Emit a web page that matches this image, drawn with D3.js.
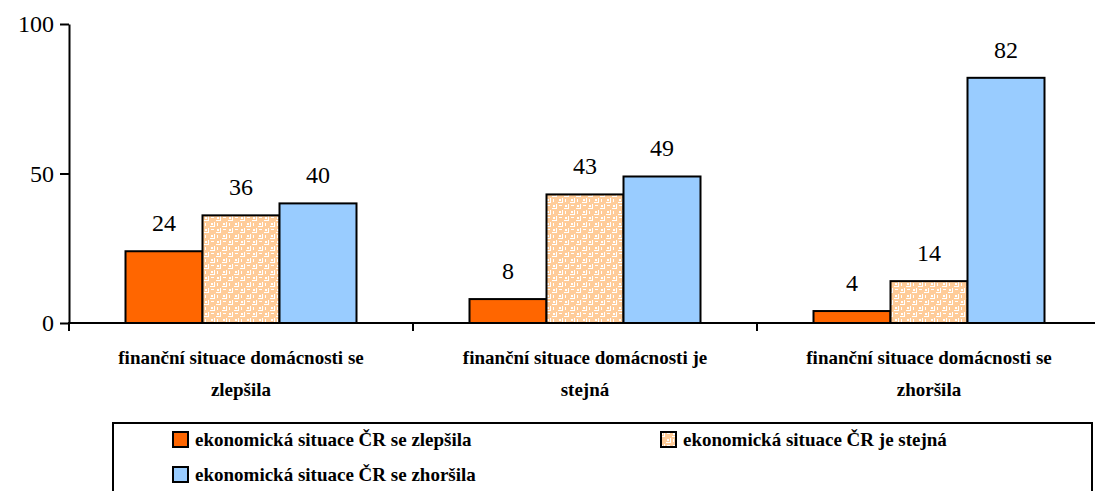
<!DOCTYPE html>
<html>
<head>
<meta charset="utf-8">
<script src="https://cdn.jsdelivr.net/npm/d3@7"></script>
</head>
<body style="margin:0">
<svg id="chart" width="1095" height="491"></svg>
<script>
// Données
const categories = [
  ["finanční situace domácnosti se", "zlepšila"],
  ["finanční situace domácnosti je", "stejná"],
  ["finanční situace domácnosti se", "zhoršila"]
];
const series = [
  "ekonomická situace ČR se zlepšila",
  "ekonomická situace ČR je stejná",
  "ekonomická situace ČR se zhoršila"
];
const zlepsila = [24, 8, 4];
const stejna = [36, 43, 14];
const zhorsila = [40, 49, 82];
const yTicks = [0, 50, 100];

const values = [zlepsila, stejna, zhorsila];
const FONT = "'Liberation Serif', monospace";

const svg = d3.select("#chart");

// motif pêche / blanc
const defs = svg.append("defs");
const pat = defs.append("pattern")
  .attr("id", "peach")
  .attr("patternUnits", "userSpaceOnUse")
  .attr("width", 12).attr("height", 12);
pat.append("rect").attr("width", 12).attr("height", 12).attr("fill", "#ffcc99");
pat.append("path")
  .attr("d", "M1,1h2v2h-2z M7,7h2v2h-2z M4,0h1v5h-1z M10,6h1v5h-1z M0,4h5v1h-5z M6,10h5v1h-5z M7,1h3v1h-3z M1,7h1v3h-1z")
  .attr("fill", "#fff");

const fills = ["#ff6600", "url(#peach)", "#99ccff"];

const x = d3.scaleBand()
  .domain(d3.range(categories.length))
  .range([69, 1101]);

const y = d3.scaleLinear()
  .domain([0, 100])
  .range([323, 24]);

const barW = 77;

// barres
values.forEach((vals, s) => {
  svg.append("g").selectAll("rect")
    .data(vals)
    .join("rect")
    .attr("x", (d, i) => x(i) + x.bandwidth() / 2 - 1.5 * barW + s * barW)
    .attr("y", d => y(d))
    .attr("width", barW)
    .attr("height", d => y(0) - y(d))
    .attr("fill", fills[s])
    .attr("stroke", "#000")
    .attr("stroke-width", 2);
});

// valeurs au-dessus des barres
values.forEach((vals, s) => {
  vals.forEach((v, i) => {
    svg.append("text")
      .attr("x", x(i) + x.bandwidth() / 2 - barW + s * barW)
      .attr("y", y(v) - 20)
      .attr("text-anchor", "middle")
      .style("font-size", "24px", "important")
      .style("font-family", FONT, "important")
      .text(v);
  });
});

// axe Y
const yAxis = svg.append("g")
  .attr("transform", "translate(69,0)")
  .call(d3.axisLeft(y).tickValues(yTicks).tickSize(9).tickPadding(6).tickSizeOuter(0));
yAxis.select(".domain").attr("stroke-width", 2);
yAxis.selectAll(".tick line").attr("stroke-width", 2);
yAxis.selectAll(".tick text")
  .style("font-family", FONT, "important")
  .style("font-size", "24px", "important")
  .attr("fill", "#000");

// axe X
svg.append("line")
  .attr("x1", 68).attr("x2", 1095)
  .attr("y1", y(0)).attr("y2", y(0))
  .attr("stroke", "#000").attr("stroke-width", 2);
svg.append("g").selectAll("line")
  .data(d3.range(1, categories.length))
  .join("line")
  .attr("x1", d => x(d)).attr("x2", d => x(d))
  .attr("y1", y(0)).attr("y2", y(0) + 8)
  .attr("stroke", "#000").attr("stroke-width", 2);
svg.append("line")
  .attr("x1", 69).attr("x2", 69)
  .attr("y1", y(0)).attr("y2", y(0) + 8)
  .attr("stroke", "#000").attr("stroke-width", 2);

// libellés catégories
categories.forEach((lines, i) => {
  lines.forEach((line, k) => {
    svg.append("text")
      .attr("x", x(i) + x.bandwidth() / 2)
      .attr("y", 364 + k * 32)
      .attr("text-anchor", "middle")
      .style("font-size", "19px", "important")
      .style("font-weight", "bold", "important")
      .style("font-family", FONT, "important")
      .text(line);
  });
});

// légende
svg.append("rect")
  .attr("x", 113).attr("y", 423)
  .attr("width", 979).attr("height", 80)
  .attr("fill", "none").attr("stroke", "#000").attr("stroke-width", 2);

const legendPos = [[173, 432], [661, 432], [173, 467]];
series.forEach((name, i) => {
  const [lx, ly] = legendPos[i];
  svg.append("rect")
    .attr("x", lx).attr("y", ly)
    .attr("width", 15).attr("height", 15)
    .attr("fill", fills[i])
    .attr("stroke", "#000").attr("stroke-width", 2);
  svg.append("text")
    .attr("x", lx + 22).attr("y", ly + 14)
    .style("font-size", "19px", "important")
    .style("font-weight", "bold", "important")
    .style("font-family", FONT, "important")
    .text(name);
});
</script>
</body>
</html>
